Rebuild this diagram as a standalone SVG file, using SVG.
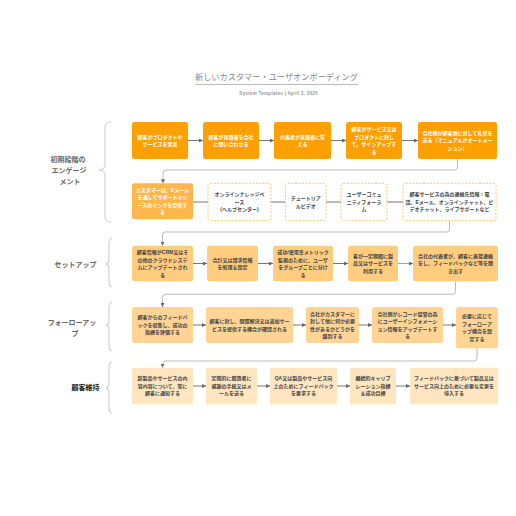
<svg xmlns="http://www.w3.org/2000/svg" width="516" height="516" viewBox="0 0 516 516">
<style>
text{font-family:"Liberation Sans","Noto Sans CJK JP",sans-serif;}
.t1{fill:#FFA000;}
.t2{fill:#FFB74D;}
.dash{fill:#fff;stroke:#FFB74D;stroke-width:0.8;stroke-dasharray:2 1.5;}
.t3{fill:#FFCC80;}
.t4{fill:#FFD494;}
.t5{fill:#FFE5C0;}
.w{font-size:5px;font-weight:bold;fill:#fff;text-anchor:middle;}
.d{font-size:5px;font-weight:bold;fill:#444;text-anchor:middle;}
.lab{font-size:7px;font-weight:bold;fill:#666;text-anchor:middle;}
.brace{fill:none;stroke:#bbb;stroke-width:0.8;}
.arr{fill:none;stroke:#666;stroke-width:0.9;marker-end:url(#ah);}
.ln{fill:none;stroke:#666;stroke-width:0.9;}
.rc{fill:none;stroke:#aaa;stroke-width:0.8;marker-end:url(#ah);}
</style>
<defs>
<marker id="ah" viewBox="0 0 6 6" refX="6" refY="3" markerWidth="4" markerHeight="4" markerUnits="userSpaceOnUse" orient="auto"><path d="M0,0 L6,3 L0,6 z" fill="#666"/></marker>
</defs>
<rect width="516" height="516" fill="#fff"/>
<g id="title">
<text x="276.5" y="80" style="font-size:8.2px;fill:#888;text-anchor:middle;">新しいカスタマー・ユーザオンボーディング</text>
<line x1="195" y1="84.5" x2="358" y2="84.5" stroke="#aaa" stroke-width="0.8"/>
<text x="278.5" y="94.8" style="font-size:4.6px;font-weight:bold;fill:#999;text-anchor:middle;letter-spacing:0.25px;">System Templates  |  April 3, 2025</text>
</g>
<g id="labels">
<text class="lab" x="68" y="161.5">初期段階の</text>
<text class="lab" x="69" y="172.8">エンゲージ</text>
<text class="lab" x="70" y="184">メント</text>
<text class="lab" x="75.5" y="266.5">セットアップ</text>
<text class="lab" x="72" y="325">フォーローアッ</text>
<text class="lab" x="75" y="335.5">プ</text>
<text class="lab" x="85.5" y="390" style="fill:#222;">顧客維持</text>
<path class="brace" d="M111,122 Q105,122 105,128 L105,164 Q105,170 99,170 Q105,170 105,176 L105,216 Q105,222 111,222"/>
<path class="brace" d="M112,238 Q109,238 109,242 L109,260 Q109,264 106,264 Q109,264 109,268 L109,283 Q109,287 112,287"/>
<path class="brace" d="M112,302 Q109,302 109,306 L109,321 Q109,325 106,325 Q109,325 109,329 L109,347 Q109,351 112,351"/>
<path class="brace" d="M112,362 Q109,362 109,366 L109,384 Q109,388 106,388 Q109,388 109,392 L109,409 Q109,413 112,413"/>
</g>
<g id="connectors">
<line class="arr" x1="188" y1="140.5" x2="203" y2="140.5"/>
<line class="arr" x1="259" y1="140.5" x2="274" y2="140.5"/>
<line class="arr" x1="331" y1="140.5" x2="346" y2="140.5"/>
<line class="arr" x1="402" y1="140.5" x2="418" y2="140.5"/>
<path class="rc" d="M457.5,159 L457.5,167 Q457.5,170 454.5,170 L166,170 Q163,170 163,173 L163,183.3"/>
<line class="ln" x1="193" y1="202" x2="208" y2="202"/>
<line class="ln" x1="271" y1="202" x2="285.5" y2="202"/>
<line class="ln" x1="326" y1="202" x2="341" y2="202"/>
<line class="ln" x1="387" y1="202" x2="403" y2="202"/>
<path class="rc" d="M449.5,220.7 L449.5,229 Q449.5,232 446.5,232 L165.5,232 Q162.5,232 162.5,235 L162.5,245.7"/>
<line class="arr" x1="193" y1="263.5" x2="207" y2="263.5"/>
<line class="arr" x1="258" y1="263.5" x2="273" y2="263.5"/>
<line class="arr" x1="333" y1="263.5" x2="348" y2="263.5"/>
<line class="arr" x1="398" y1="263.5" x2="413" y2="263.5" style="stroke:#999;"/>
<path class="rc" d="M455.5,281.3 L455.5,291.3 Q455.5,294.3 452.5,294.3 L165.5,294.3 Q162.5,294.3 162.5,297.3 L162.5,307"/>
<line class="arr" x1="193" y1="325" x2="206" y2="325"/>
<line class="arr" x1="293" y1="325" x2="306" y2="325"/>
<line class="arr" x1="359" y1="325" x2="372" y2="325"/>
<line class="arr" x1="443" y1="325" x2="456" y2="325"/>
<path class="rc" d="M477,348.3 L477,358 Q477,361 474,361 L165.5,361 Q162.5,361 162.5,364 L162.5,367.7"/>
<line class="arr" x1="193" y1="386" x2="206" y2="386"/>
<line class="arr" x1="257" y1="386" x2="270" y2="386"/>
<line class="arr" x1="337" y1="386" x2="350" y2="386"/>
<line class="arr" x1="396" y1="386" x2="410" y2="386"/>
</g>
<g id="r1n1"><rect class="t1" x="132" y="122" width="56" height="37" rx="2.5"/>
<text class="w" x="160" y="138.55">顧客がプロダクトや</text><text class="w" x="160" y="146.05">サービスを発見</text></g>
<g id="r1n2"><rect class="t1" x="203" y="122" width="56" height="37" rx="2.5"/>
<text class="w" x="231" y="138.55">顧客が見積書を会社</text><text class="w" x="231" y="146.05">に問い合わせる</text></g>
<g id="r1n3"><rect class="t1" x="274" y="122" width="57" height="37" rx="2.5"/>
<text class="w" x="302.5" y="138.55">代表者が見積書に答</text><text class="w" x="302.5" y="146.05">える</text></g>
<g id="r1n4"><rect class="t1" x="346" y="122" width="56" height="37" rx="2.5"/>
<text class="w" x="374" y="131.05">顧客がサービス又は</text><text class="w" x="374" y="138.55">プロダクトに対し</text><text class="w" x="374" y="146.05">て、サインアップす</text><text class="w" x="374" y="153.55">る</text></g>
<g id="r1n5"><rect class="t1" x="418" y="122" width="79" height="37" rx="2.5"/>
<text class="w" x="457.5" y="134.8">会社側が顧客側に対して礼状を</text><text class="w" x="457.5" y="142.3">送る（マニュアルかオートメー</text><text class="w" x="457.5" y="149.8">ション）</text></g>
<g id="r2n1"><rect class="t2" x="132" y="183.3" width="61" height="36" rx="2.5"/>
<text class="w" x="162.5" y="191.85">カスタマーは、Eメール</text><text class="w" x="162.5" y="199.35">を通してサポートリソ</text><text class="w" x="162.5" y="206.85">ースのリンクを受信す</text><text class="w" x="162.5" y="214.35">る</text></g>
<g id="r2n2"><rect class="dash" x="208" y="183.3" width="63" height="37.4" rx="2.5"/>
<text class="d" x="239.5" y="196.3">オンラインナレッジベ</text><text class="d" x="239.5" y="203.8">ース</text><text class="d" x="239.5" y="211.3">(ヘルプセンター)</text></g>
<g id="r2n3"><rect class="dash" x="285.5" y="183.3" width="40.5" height="37.4" rx="2.5"/>
<text class="d" x="305.75" y="200.05">チュートリア</text><text class="d" x="305.75" y="207.55">ルビデオ</text></g>
<g id="r2n4"><rect class="dash" x="341" y="183.3" width="46" height="37.4" rx="2.5"/>
<text class="d" x="364" y="196.3">ユーザーコミュ</text><text class="d" x="364" y="203.8">ニティフォーラ</text><text class="d" x="364" y="211.3">ム</text></g>
<g id="r2n5"><rect class="dash" x="403" y="183.3" width="93" height="37.4" rx="2.5"/>
<text class="d" x="449.5" y="196.3">顧客サービスの為の連絡先情報：電</text><text class="d" x="449.5" y="203.8">話、Eメール、オンラインチャット、ビ</text><text class="d" x="449.5" y="211.3">デオチャット、ライブサポートなど</text></g>
<g id="r3n1"><rect class="t3" x="132" y="245.7" width="61" height="35.6" rx="2.5"/>
<text class="d" x="162.5" y="254.05">顧客情報がCRM又はそ</text><text class="d" x="162.5" y="261.55">の他のクラウドシステ</text><text class="d" x="162.5" y="269.05">ムにアップデートされ</text><text class="d" x="162.5" y="276.55">る</text></g>
<g id="r3n2"><rect class="t3" x="207" y="245.7" width="51" height="35.6" rx="2.5"/>
<text class="d" x="232.5" y="261.55">会計又は請求情報</text><text class="d" x="232.5" y="269.05">を処理＆設定</text></g>
<g id="r3n3"><rect class="t3" x="273" y="245.7" width="60" height="35.6" rx="2.5"/>
<text class="d" x="303" y="254.05">成功/使用率メトリック</text><text class="d" x="303" y="261.55">監視のために、ユーザ</text><text class="d" x="303" y="269.05">をグループごとに分け</text><text class="d" x="303" y="276.55">る</text></g>
<g id="r3n4"><rect class="t3" x="348" y="245.7" width="50" height="35.6" rx="2.5"/>
<text class="d" x="373" y="257.8">客が一定期間に製</text><text class="d" x="373" y="265.3">品又はサービスを</text><text class="d" x="373" y="272.8">利用する</text></g>
<g id="r3n5"><rect class="t3" x="413" y="245.7" width="85" height="35.6" rx="2.5"/>
<text class="d" x="455.5" y="257.8">会社の代表者が、顧客に直接連絡</text><text class="d" x="455.5" y="265.3">をし、フィードバックなど等を聞</text><text class="d" x="455.5" y="272.8">き出す</text></g>
<g id="r4n1"><rect class="t4" x="132" y="307" width="61" height="36" rx="2.5"/>
<text class="d" x="162.5" y="319.3">顧客からのフィードバ</text><text class="d" x="162.5" y="326.8">ックを収集し、成功の</text><text class="d" x="162.5" y="334.3">指標を評価する</text></g>
<g id="r4n2"><rect class="t4" x="206" y="307" width="87" height="36" rx="2.5"/>
<text class="d" x="249.5" y="323.05">顧客に対し、問題解決又は追加サー</text><text class="d" x="249.5" y="330.55">ビスを提供する機会が確認される</text></g>
<g id="r4n3"><rect class="t4" x="306" y="307" width="53" height="36" rx="2.5"/>
<text class="d" x="332.5" y="315.55">会社がカスタマーに</text><text class="d" x="332.5" y="323.05">対して他に何か必要</text><text class="d" x="332.5" y="330.55">性があるかどうかを</text><text class="d" x="332.5" y="338.05">識別する</text></g>
<g id="r4n4"><rect class="t4" x="372" y="307" width="71" height="36" rx="2.5"/>
<text class="d" x="407.5" y="315.55">会社側がレコード保管の為</text><text class="d" x="407.5" y="323.05">にユーザーインフォメーシ</text><text class="d" x="407.5" y="330.55">ョン情報をアップデートす</text><text class="d" x="407.5" y="338.05">る</text></g>
<g id="r4n5"><rect class="t4" x="456" y="307" width="42" height="41.3" rx="2.5"/>
<text class="d" x="477" y="318.2">必要に応じて</text><text class="d" x="477" y="325.7">フォーローア</text><text class="d" x="477" y="333.2">ップ機会を設</text><text class="d" x="477" y="340.7">定する</text></g>
<g id="r5n1"><rect class="t5" x="132" y="367.7" width="61" height="36.6" rx="2.5"/>
<text class="d" x="162.5" y="380.3">新製品やサービスの内</text><text class="d" x="162.5" y="387.8">容内容について、常に</text><text class="d" x="162.5" y="395.3">顧客に通知する</text></g>
<g id="r5n2"><rect class="t5" x="206" y="367.7" width="51" height="36.6" rx="2.5"/>
<text class="d" x="231.5" y="380.3">定期的に購読者に</text><text class="d" x="231.5" y="387.8">感謝の手紙又はメ</text><text class="d" x="231.5" y="395.3">ールを送る</text></g>
<g id="r5n3"><rect class="t5" x="270" y="367.7" width="67" height="36.6" rx="2.5"/>
<text class="d" x="303.5" y="380.3">QA又は製品やサービス向</text><text class="d" x="303.5" y="387.8">上のためにフィードバック</text><text class="d" x="303.5" y="395.3">を要求する</text></g>
<g id="r5n4"><rect class="t5" x="350" y="367.7" width="46" height="36.6" rx="2.5"/>
<text class="d" x="373" y="380.3">継続的キャリブ</text><text class="d" x="373" y="387.8">レーション指標</text><text class="d" x="373" y="395.3">＆成功目標</text></g>
<g id="r5n5"><rect class="t5" x="410" y="367.7" width="88" height="36.6" rx="2.5"/>
<text class="d" x="454" y="380.3">フィードバックに基づいて製品又は</text><text class="d" x="454" y="387.8">サービス向上のために必要な変更を</text><text class="d" x="454" y="395.3">導入する</text></g>
</svg>
